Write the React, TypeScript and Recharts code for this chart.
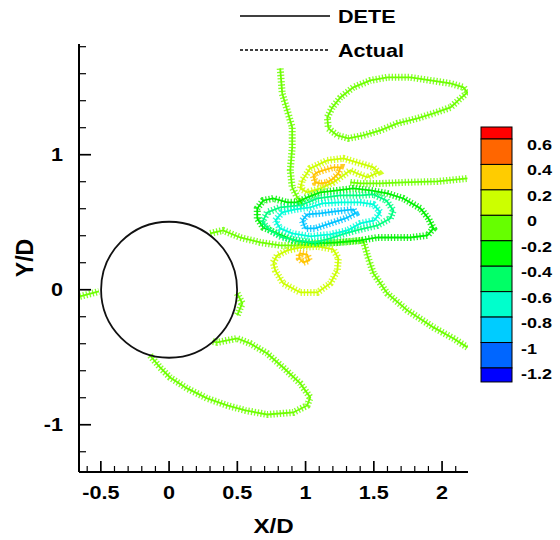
import React from 'react';
import { ComposedChart, Line, XAxis, YAxis, ReferenceDot, Label } from 'recharts';

type P = { x: number; y: number };

// ---- contour lines (X/D, Y/D) ----
const topRightLoop: P[] = [
  { x: 1.167, y: 1.195 }, { x: 1.233, y: 1.143 }, { x: 1.313, y: 1.121 }, { x: 1.423, y: 1.143 },
  { x: 1.548, y: 1.18 }, { x: 1.673, y: 1.232 }, { x: 1.82, y: 1.269 }, { x: 1.937, y: 1.306 },
  { x: 2.062, y: 1.35 }, { x: 2.135, y: 1.417 }, { x: 2.186, y: 1.461 }, { x: 2.157, y: 1.499 },
  { x: 2.062, y: 1.528 }, { x: 1.915, y: 1.55 }, { x: 1.768, y: 1.573 }, { x: 1.599, y: 1.573 },
  { x: 1.475, y: 1.55 }, { x: 1.35, y: 1.499 }, { x: 1.255, y: 1.424 }, { x: 1.196, y: 1.35 },
  { x: 1.159, y: 1.276 }, { x: 1.167, y: 1.195 },
];
const verticalBranch: P[] = [
  { x: 0.814, y: 1.639 }, { x: 0.829, y: 1.454 }, { x: 0.866, y: 1.328 }, { x: 0.902, y: 1.202 },
  { x: 0.902, y: 1.054 }, { x: 0.888, y: 0.884 }, { x: 0.902, y: 0.758 }, { x: 0.939, y: 0.684 },
  { x: 0.983, y: 0.624 },
];
const leftStub: P[] = [{ x: -0.653, y: -0.05 }, { x: -0.514, y: -0.013 }];
const wakeBranch: P[] = [
  { x: 0.301, y: 0.417 }, { x: 0.396, y: 0.439 }, { x: 0.521, y: 0.387 }, { x: 0.668, y: 0.35 },
  { x: 0.814, y: 0.328 }, { x: 0.961, y: 0.328 }, { x: 1.108, y: 0.343 }, { x: 1.255, y: 0.35 },
  { x: 1.423, y: 0.365 }, { x: 1.453, y: 0.254 }, { x: 1.497, y: 0.121 }, { x: 1.599, y: -0.028 },
  { x: 1.746, y: -0.153 }, { x: 1.937, y: -0.279 }, { x: 2.084, y: -0.361 }, { x: 2.186, y: -0.427 },
];
const rightArm: P[] = [
  { x: 1.328, y: 0.795 }, { x: 1.401, y: 0.787 }, { x: 1.548, y: 0.787 }, { x: 1.717, y: 0.795 },
  { x: 1.966, y: 0.802 }, { x: 2.186, y: 0.824 },
];
const upperYellowLoop: P[] = [
  { x: 0.961, y: 0.75 }, { x: 0.976, y: 0.81 }, { x: 1.034, y: 0.899 }, { x: 1.159, y: 0.958 },
  { x: 1.277, y: 0.973 }, { x: 1.401, y: 0.936 }, { x: 1.497, y: 0.906 }, { x: 1.533, y: 0.869 },
  { x: 1.453, y: 0.832 }, { x: 1.379, y: 0.861 }, { x: 1.328, y: 0.884 }, { x: 1.277, y: 0.847 },
  { x: 1.203, y: 0.795 }, { x: 1.108, y: 0.75 }, { x: 1.012, y: 0.721 }, { x: 0.961, y: 0.75 },
];
const upperOrangeLoop: P[] = [
  { x: 1.056, y: 0.847 }, { x: 1.086, y: 0.869 }, { x: 1.13, y: 0.884 }, { x: 1.203, y: 0.906 },
  { x: 1.255, y: 0.906 }, { x: 1.24, y: 0.861 }, { x: 1.203, y: 0.824 }, { x: 1.159, y: 0.795 },
  { x: 1.108, y: 0.787 }, { x: 1.071, y: 0.795 }, { x: 1.056, y: 0.847 },
];
const greenLoop: P[] = [
  { x: 0.646, y: 0.528 }, { x: 0.646, y: 0.602 }, { x: 0.69, y: 0.661 }, { x: 0.763, y: 0.676 },
  { x: 0.866, y: 0.647 }, { x: 0.939, y: 0.647 }, { x: 1.012, y: 0.684 }, { x: 1.108, y: 0.721 },
  { x: 1.233, y: 0.736 }, { x: 1.35, y: 0.75 }, { x: 1.475, y: 0.736 }, { x: 1.599, y: 0.713 },
  { x: 1.717, y: 0.676 }, { x: 1.842, y: 0.602 }, { x: 1.9, y: 0.528 }, { x: 1.937, y: 0.454 },
  { x: 1.893, y: 0.402 }, { x: 1.768, y: 0.387 }, { x: 1.643, y: 0.387 }, { x: 1.526, y: 0.387 },
  { x: 1.401, y: 0.365 }, { x: 1.233, y: 0.35 }, { x: 1.056, y: 0.343 }, { x: 0.91, y: 0.365 },
  { x: 0.792, y: 0.417 }, { x: 0.69, y: 0.461 }, { x: 0.646, y: 0.528 },
];
const springLoop: P[] = [
  { x: 0.682, y: 0.499 }, { x: 0.719, y: 0.573 }, { x: 0.814, y: 0.61 }, { x: 0.961, y: 0.624 },
  { x: 1.086, y: 0.676 }, { x: 1.255, y: 0.699 }, { x: 1.401, y: 0.699 }, { x: 1.497, y: 0.706 },
  { x: 1.592, y: 0.661 }, { x: 1.643, y: 0.587 }, { x: 1.621, y: 0.528 }, { x: 1.526, y: 0.476 },
  { x: 1.401, y: 0.447 }, { x: 1.291, y: 0.417 }, { x: 1.181, y: 0.38 }, { x: 1.071, y: 0.35 },
  { x: 0.939, y: 0.365 }, { x: 0.829, y: 0.387 }, { x: 0.741, y: 0.439 }, { x: 0.682, y: 0.499 },
];
const aquaLoop: P[] = [
  { x: 0.778, y: 0.513 }, { x: 0.829, y: 0.573 }, { x: 0.924, y: 0.595 }, { x: 1.034, y: 0.61 },
  { x: 1.123, y: 0.639 }, { x: 1.255, y: 0.647 }, { x: 1.401, y: 0.647 }, { x: 1.497, y: 0.632 },
  { x: 1.548, y: 0.573 }, { x: 1.504, y: 0.513 }, { x: 1.401, y: 0.491 }, { x: 1.306, y: 0.439 },
  { x: 1.181, y: 0.41 }, { x: 1.034, y: 0.395 }, { x: 0.902, y: 0.417 }, { x: 0.814, y: 0.454 },
  { x: 0.778, y: 0.513 },
];
const skyLoop: P[] = [
  { x: 0.976, y: 0.513 }, { x: 1.012, y: 0.558 }, { x: 1.108, y: 0.565 }, { x: 1.218, y: 0.58 },
  { x: 1.35, y: 0.595 }, { x: 1.365, y: 0.565 }, { x: 1.291, y: 0.528 }, { x: 1.181, y: 0.491 },
  { x: 1.071, y: 0.454 }, { x: 0.998, y: 0.454 }, { x: 0.976, y: 0.513 },
];
const lowerOrangeBlob: P[] = [
  { x: 0.954, y: 0.269 }, { x: 1.012, y: 0.261 }, { x: 1.027, y: 0.217 }, { x: 0.983, y: 0.202 },
  { x: 0.954, y: 0.232 }, { x: 0.954, y: 0.269 },
];
const lowerYellowLoop: P[] = [
  { x: 0.763, y: 0.202 }, { x: 0.792, y: 0.254 }, { x: 0.866, y: 0.291 }, { x: 0.961, y: 0.313 },
  { x: 1.086, y: 0.321 }, { x: 1.203, y: 0.299 }, { x: 1.24, y: 0.232 }, { x: 1.233, y: 0.143 },
  { x: 1.181, y: 0.047 }, { x: 1.086, y: -0.02 }, { x: 0.961, y: -0.02 }, { x: 0.836, y: 0.047 },
  { x: 0.778, y: 0.143 }, { x: 0.763, y: 0.202 },
];
const cylinderArc: P[] = [{ x: 0.499, y: -0.027 }, { x: 0.536, y: -0.101 }, { x: 0.499, y: -0.19 }];
const lowerLoop: P[] = [
  { x: -0.139, y: -0.487 }, { x: -0.066, y: -0.576 }, { x: 0.007, y: -0.65 }, { x: 0.132, y: -0.731 },
  { x: 0.279, y: -0.805 }, { x: 0.426, y: -0.857 }, { x: 0.558, y: -0.894 }, { x: 0.719, y: -0.924 },
  { x: 0.91, y: -0.909 }, { x: 1.012, y: -0.857 }, { x: 1.034, y: -0.798 }, { x: 0.961, y: -0.694 },
  { x: 0.836, y: -0.576 }, { x: 0.719, y: -0.472 }, { x: 0.594, y: -0.398 }, { x: 0.499, y: -0.361 },
  { x: 0.352, y: -0.39 }, { x: 0.315, y: -0.383 },
];

// ---- axes / legends ----
const xTicks = [-0.6, -0.5, -0.4, -0.3, -0.2, -0.1, 0, 0.1, 0.2, 0.3, 0.4, 0.5, 0.6, 0.7, 0.8, 0.9, 1, 1.1, 1.2, 1.3, 1.4, 1.5, 1.6, 1.7, 1.8, 1.9, 2, 2.1];
const yTicks = [-1.2, -1, -0.8, -0.6, -0.4, -0.2, 0, 0.2, 0.4, 0.6, 0.8, 1, 1.2, 1.4, 1.6, 1.8];
const colorbarColors = ['#ff0000', '#ff6600', '#ffcc00', '#ccff00', '#66ff00', '#00ff00', '#00ff66', '#00ffcc', '#00ccff', '#0066ff', '#0000ff'];
const colorbarLabels = ['0.6', '0.4', '0.2', '0', '-0.2', '-0.4', '-0.6', '-0.8', '-1', '-1.2'];
const legendNames = ['DETE', 'Actual'];
const cylinderCenter = { x: 0, y: 0 };

const C_LG = '#6eff00';
const C_YG = '#ccff00';
const C_OR = '#ffc400';
const C_GR = '#00f000';
const C_SP = '#00ff80';
const C_AQ = '#00ffd8';
const C_SK = '#00c4ff';

const contours = [
  { key: 'topRightLoop', data: topRightLoop, color: C_LG },
  { key: 'verticalBranch', data: verticalBranch, color: C_LG },
  { key: 'leftStub', data: leftStub, color: C_LG },
  { key: 'wakeBranch', data: wakeBranch, color: C_LG },
  { key: 'rightArm', data: rightArm, color: C_LG },
  { key: 'cylinderArc', data: cylinderArc, color: C_LG },
  { key: 'lowerLoop', data: lowerLoop, color: C_LG },
  { key: 'lowerYellowLoop', data: lowerYellowLoop, color: C_YG },
  { key: 'upperYellowLoop', data: upperYellowLoop, color: C_YG },
  { key: 'greenLoop', data: greenLoop, color: C_GR },
  { key: 'springLoop', data: springLoop, color: C_SP },
  { key: 'aquaLoop', data: aquaLoop, color: C_AQ },
  { key: 'skyLoop', data: skyLoop, color: C_SK },
  { key: 'upperOrangeLoop', data: upperOrangeLoop, color: C_OR },
  { key: 'lowerOrangeBlob', data: lowerOrangeBlob, color: C_OR },
];

const FONT = "'Liberation Sans', Arial, Helvetica, sans-serif";
const fmt = (v: number) => String(Math.round(v * 10) / 10 + 0);
const isMult = (v: number, step: number) => Math.abs(v / step - Math.round(v / step)) < 1e-6;

const XTick = (props: any) => {
  const { x, y, payload } = props;
  const v = payload.value as number;
  const major = isMult(v, 0.5);
  return (
    <g>
      <line x1={x} x2={x} y1={y} y2={y - (major ? 11 : 6)} stroke="#000" strokeWidth={major ? 1.7 : 1.2} />
      {major && (
        <text transform={`translate(${x} ${y + 27}) scale(1.2 1)`} textAnchor="middle" fontFamily={FONT} fontWeight="bold" fontSize={18} fill="#000">
          {fmt(v)}
        </text>
      )}
    </g>
  );
};

const YTick = (props: any) => {
  const { x, y, payload } = props;
  const v = payload.value as number;
  const major = isMult(v, 1);
  return (
    <g>
      <line x1={x} x2={x + (major ? 12 : 7)} y1={y} y2={y} stroke="#000" strokeWidth={major ? 1.7 : 1.2} />
      {major && (
        <text transform={`translate(${x - 16} ${y + 6.5}) scale(1.2 1)`} textAnchor="end" fontFamily={FONT} fontWeight="bold" fontSize={18} fill="#000">
          {fmt(v)}
        </text>
      )}
    </g>
  );
};

const XTitle = (props: any) => {
  const vb = props.viewBox || { x: 79, y: 472, width: 389 };
  return (
    <text transform={`translate(${vb.x + vb.width / 2} ${vb.y + 61}) scale(1.15 1)`} textAnchor="middle" fontFamily={FONT} fontWeight="bold" fontSize={21} fill="#000">
      X/D
    </text>
  );
};

const YTitle = (props: any) => {
  const vb = props.viewBox || { x: 0, y: 44, width: 79, height: 428 };
  return (
    <text transform={`translate(33 ${vb.y + vb.height / 2}) rotate(-90) scale(1.1 1.15)`} textAnchor="middle" fontFamily={FONT} fontWeight="bold" fontSize={21} fill="#000">
      Y/D
    </text>
  );
};

export default function App() {
  const cbTop = 139;
  const cbStep = 25.44;
  return (
    <div style={{ position: 'absolute', left: 0, top: 0, width: 560, height: 540, background: '#fff' }}>
      <ComposedChart width={560} height={540} margin={{ top: 44, right: 92, bottom: 0, left: 0 }}>
        <XAxis
          dataKey="x"
          type="number"
          domain={[-0.66, 2.19]}
          allowDataOverflow
          ticks={xTicks}
          interval={0}
          tick={(p: any) => <XTick {...p} />}
          tickLine={false}
          tickSize={0}
          tickMargin={0}
          height={68}
          axisLine={{ stroke: '#000', strokeWidth: 2 }}
        >
          <Label content={(p: any) => <XTitle {...p} />} />
        </XAxis>
        <YAxis
          type="number"
          domain={[-1.35, 1.82]}
          allowDataOverflow
          ticks={yTicks}
          interval={0}
          tick={(p: any) => <YTick {...p} />}
          tickLine={false}
          tickSize={0}
          tickMargin={0}
          width={79}
          axisLine={{ stroke: '#000', strokeWidth: 2 }}
        >
          <Label content={(p: any) => <YTitle {...p} />} />
        </YAxis>
        <ReferenceDot x={cylinderCenter.x} y={cylinderCenter.y} r={68} fill="none" stroke="#111" strokeWidth={1.8} ifOverflow="visible" />
        {contours.flatMap((c) => [
          <Line key={c.key + '-tick'} data={c.data} dataKey="y" type="linear" stroke={c.color} strokeWidth={7} strokeDasharray="1.3 1.9" strokeOpacity={0.85} dot={false} activeDot={false} isAnimationActive={false} />,
          <Line key={c.key + '-base'} data={c.data} dataKey="y" type="linear" stroke={c.color} strokeWidth={1.8} dot={false} activeDot={false} isAnimationActive={false} />,
        ])}
      </ComposedChart>
      <svg width={560} height={540} style={{ position: 'absolute', left: 0, top: 0, pointerEvents: 'none' }}>
        <line x1={240} x2={330} y1={16} y2={16} stroke="#000" strokeWidth={1.6} />
        <text transform="translate(338 22.5) scale(1.2 1)" fontFamily={FONT} fontWeight="bold" fontSize={18} fill="#000">{legendNames[0]}</text>
        <line x1={240} x2={330} y1={50} y2={50} stroke="#000" strokeWidth={1.6} strokeDasharray="3 2" />
        <text transform="translate(338 56.5) scale(1.2 1)" fontFamily={FONT} fontWeight="bold" fontSize={18} fill="#000">{legendNames[1]}</text>
        {colorbarColors.map((col, i) => {
          const y0 = i === 0 ? 127 : cbTop + (i - 1) * cbStep;
          const h = i === 0 ? cbTop - 127 : i === colorbarColors.length - 1 ? 14 : cbStep;
          return <rect key={col} x={481} y={y0} width={31} height={h} fill={col} stroke="#000" strokeWidth={1} />;
        })}
        {colorbarLabels.map((lab, i) => (
          <text key={lab} transform={`translate(${lab.startsWith('-') ? 521 : 527} ${cbTop + i * cbStep + 11}) scale(1.2 1)`} fontFamily={FONT} fontWeight="bold" fontSize={15} fill="#000">
            {lab}
          </text>
        ))}
      </svg>
    </div>
  );
}
